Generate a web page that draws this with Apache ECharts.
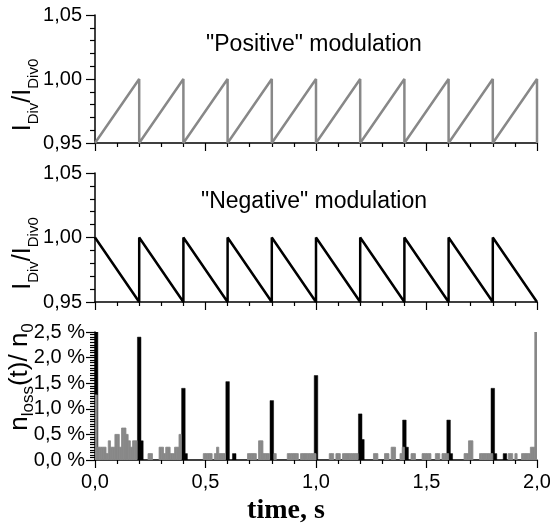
<!DOCTYPE html>
<html>
<head>
<meta charset="utf-8">
<script src="https://cdn.jsdelivr.net/npm/echarts@6/dist/echarts.min.js"></script>
<style>
html,body{margin:0;padding:0;background:#fff;}
#c{width:550px;height:528px;}
</style>
</head>
<body>
<div id="c"></div>
<script>
// ---- data ----
const xTicks = [0, 0.5, 1.0, 1.5, 2.0];
const yTicksTop = [0.95, 1.00, 1.05];
const yTicksLoss = [0, 0.5, 1.0, 1.5, 2.0, 2.5];

// "Positive" modulation sawtooth (time s, I/I0)
const posT = [0, 0.2, 0.2, 0.4, 0.4, 0.6, 0.6, 0.8, 0.8, 1.0, 1.0, 1.2, 1.2, 1.4, 1.4, 1.6, 1.6, 1.8, 1.8, 2.0, 2.0];
const posV = [0.95, 1.00, 0.95, 1.00, 0.95, 1.00, 0.95, 1.00, 0.95, 1.00, 0.95, 1.00, 0.95, 1.00, 0.95, 1.00, 0.95, 1.00, 0.95, 1.00, 0.95];

// "Negative" modulation sawtooth
const negT = [0, 0.2, 0.2, 0.4, 0.4, 0.6, 0.6, 0.8, 0.8, 1.0, 1.0, 1.2, 1.2, 1.4, 1.4, 1.6, 1.6, 1.8, 1.8, 2.0];
const negV = [1.00, 0.95, 1.00, 0.95, 1.00, 0.95, 1.00, 0.95, 1.00, 0.95, 1.00, 0.95, 1.00, 0.95, 1.00, 0.95, 1.00, 0.95, 1.00, 0.95];

// losses, black (negative modulation) – bin centre time, %
const blackT = [0.005, 0.2, 0.21, 0.4, 0.41, 0.6, 0.63, 0.8, 1.0, 1.2, 1.21, 1.4, 1.41, 1.6, 1.61, 1.8, 1.81, 1.855];
const blackV = [2.5, 2.4, 0.375, 1.4, 0.125, 1.53, 0.125, 1.16, 1.65, 0.9, 0.4, 0.78, 0.25, 0.78, 0.125, 1.4, 0.125, 0.125];

// losses, gray (positive modulation) – bin centre time, %
const grayT = [0.005, 0.015, 0.025, 0.035, 0.045, 0.055, 0.065, 0.075, 0.085, 0.095, 0.105, 0.115, 0.125, 0.135, 0.145, 0.155, 0.165, 0.175, 0.185,
  0.245, 0.255, 0.295, 0.305, 0.315, 0.325, 0.335, 0.345, 0.355, 0.365, 0.375, 0.385,
  0.495, 0.505, 0.515, 0.525, 0.545, 0.555, 0.565, 0.575, 0.585,
  0.695, 0.705, 0.715, 0.725, 0.745, 0.755, 0.765, 0.775, 0.785, 0.815,
  0.875, 0.885, 0.895, 0.905, 0.915, 0.935, 0.945, 0.955, 0.965, 0.975, 0.985, 0.995,
  1.065, 1.075, 1.095, 1.105, 1.125, 1.135, 1.145, 1.155, 1.165, 1.175, 1.185,
  1.265, 1.275, 1.315, 1.325, 1.345, 1.355, 1.385, 1.395,
  1.435, 1.445, 1.485, 1.495, 1.505, 1.515, 1.545, 1.555, 1.575, 1.585, 1.595,
  1.675, 1.685, 1.695, 1.705, 1.745, 1.755, 1.765, 1.775, 1.785, 1.795,
  1.875, 1.885, 1.905, 1.935, 1.945, 1.955, 1.965, 1.975, 1.985, 1.995];
const grayV = [1.27, 0.25, 0.25, 0.25, 0.25, 0.125, 0.375, 0.25, 0.25, 0.5, 0.5, 0.25, 0.625, 0.625, 0.5, 0.375, 0.25, 0.375, 0.375,
  0.125, 0.125, 0.25, 0.25, 0.125, 0.25, 0.25, 0.125, 0.125, 0.25, 0.25, 0.5,
  0.125, 0.125, 0.125, 0.125, 0.125, 0.25, 0.125, 0.125, 0.125,
  0.125, 0.125, 0.125, 0.125, 0.375, 0.375, 0.125, 0.125, 0.125, 0.125,
  0.125, 0.125, 0.125, 0.125, 0.125, 0.125, 0.125, 0.125, 0.125, 0.125, 0.125, 0.125,
  0.125, 0.125, 0.125, 0.125, 0.125, 0.125, 0.125, 0.125, 0.125, 0.125, 0.125,
  0.125, 0.125, 0.125, 0.125, 0.25, 0.25, 0.125, 0.25,
  0.125, 0.125, 0.125, 0.125, 0.125, 0.125, 0.125, 0.125, 0.125, 0.125, 0.125,
  0.125, 0.125, 0.375, 0.375, 0.125, 0.125, 0.125, 0.125, 0.125, 0.125,
  0.125, 0.125, 0.125, 0.125, 0.125, 0.125, 0.125, 0.25, 0.25, 2.5];

const titles = ['"Positive" modulation', '"Negative" modulation'];
const xName = 'time, s';

// ---- chart ----
const FONT = '"Liberation Sans", Arial, sans-serif';
const GRAY = '#888888';
const chart = echarts.init(document.getElementById('c'), null, {renderer: 'canvas'});

const zip = (a, b) => a.map((v, i) => [v, b[i]]);
const comma = (v, d) => v.toFixed(d).replace('.', ',');

function xAxisCfg(idx, showLabels) {
  return {
    type: 'value', gridIndex: idx, min: xTicks[0], max: xTicks[xTicks.length - 1], interval: 0.5,
    axisLine: {show: true, onZero: false, lineStyle: {color: '#000', width: 1.5}},
    axisTick: {show: true, inside: false, length: 8, lineStyle: {color: '#000', width: 1.2}},
    minorTick: {show: true, splitNumber: 5, length: 4, lineStyle: {color: '#000', width: 1.2}},
    splitLine: {show: false}, minorSplitLine: {show: false},
    axisLabel: {show: showLabels, color: '#000', fontSize: 20, fontFamily: FONT, margin: 12,
      formatter: v => comma(v, 1)},
    name: showLabels ? xName : '',
    nameLocation: 'middle', nameGap: 37, nameMoveOverlap: false,
    nameTextStyle: {fontFamily: '"Liberation Serif", "Times New Roman", serif', fontWeight: 'bold', fontSize: 28,
      color: '#000', padding: [0, 60, 0, 0]}
  };
}

function yAxisTop(idx) {
  return {
    type: 'value', gridIndex: idx, min: 0.95, max: 1.05, interval: 0.05,
    axisLine: {show: true, onZero: false, lineStyle: {color: '#000', width: 1.5}},
    axisTick: {show: true, inside: false, length: 9, lineStyle: {color: '#000', width: 1.2}},
    minorTick: {show: true, splitNumber: 5, length: 5, lineStyle: {color: '#000', width: 1.2}},
    splitLine: {show: false},
    axisLabel: {color: '#000', fontSize: 20, fontFamily: FONT, margin: 13, formatter: v => comma(v, 2)},
    name: '{m|I}{s|Div}{m|/I}{s|Div0}',
    nameLocation: 'middle', nameRotate: 90, nameGap: 54, nameMoveOverlap: false,
    nameTextStyle: {
      padding: [0, 32, 0, 0],
      rich: {
        m: {fontSize: 25, fontFamily: FONT, color: '#000', verticalAlign: 'bottom', lineHeight: 30, padding: [0, 0, 5, 0]},
        s: {fontSize: 15, fontFamily: FONT, color: '#000', verticalAlign: 'bottom', lineHeight: 15}
      }
    }
  };
}

const gridBase = {left: 95, width: 442, containLabel: false, outerBoundsMode: 'none'};

const option = {
  backgroundColor: '#fff',
  animation: false,
  grid: [
    Object.assign({top: 15, height: 128}, gridBase),
    Object.assign({top: 173, height: 129}, gridBase),
    Object.assign({top: 332, height: 128}, gridBase)
  ],
  xAxis: [xAxisCfg(0, false), xAxisCfg(1, false), xAxisCfg(2, true)],
  yAxis: [
    yAxisTop(0), yAxisTop(1),
    {
      type: 'value', gridIndex: 2, min: 0, max: 2.5, interval: 0.5,
      axisLine: {show: true, onZero: false, lineStyle: {color: '#000', width: 1.5}},
      axisTick: {show: true, inside: false, length: 9, lineStyle: {color: '#000', width: 1.2}},
      minorTick: {show: true, splitNumber: 10, length: 5, lineStyle: {color: '#000', width: 1.2}},
      splitLine: {show: false},
      axisLabel: {color: '#000', fontSize: 20, fontFamily: FONT, margin: 10, formatter: v => comma(v, 1) + ' %'},
      name: '{m|n}{s|loss}{m|(t)/ n}{s|0}',
      nameLocation: 'middle', nameRotate: 90, nameGap: 58, nameMoveOverlap: false,
      nameTextStyle: {
        padding: [0, 0, 0, 38],
        rich: {
          m: {fontSize: 26, fontFamily: FONT, color: '#000', verticalAlign: 'bottom', lineHeight: 31, padding: [0, 0, 4, 0]},
          s: {fontSize: 17, fontFamily: FONT, color: '#000', verticalAlign: 'bottom', lineHeight: 17}
        }
      }
    }
  ],
  graphic: [
    {type: 'text', x: 314, y: 45, style: {text: titles[0], font: '23px ' + FONT, fill: '#000', align: 'center', verticalAlign: 'middle', textAlign: 'center', textVerticalAlign: 'middle'}},
    {type: 'text', x: 314, y: 202, style: {text: titles[1], font: '23px ' + FONT, fill: '#000', align: 'center', verticalAlign: 'middle', textAlign: 'center', textVerticalAlign: 'middle'}}
  ],
  series: [
    {type: 'line', xAxisIndex: 0, yAxisIndex: 0, data: zip(posT, posV), showSymbol: false, symbol: 'none',
      lineStyle: {color: GRAY, width: 2.5}, clip: true},
    {type: 'line', xAxisIndex: 1, yAxisIndex: 1, data: zip(negT, negV), showSymbol: false, symbol: 'none',
      lineStyle: {color: '#000', width: 2.5}, clip: true},
    {type: 'custom', xAxisIndex: 2, yAxisIndex: 2, data: zip(blackT, blackV), clip: true, z: 2,
      renderItem: (params, api) => {
        const t = api.value(0), v = api.value(1), hw = 0.008;
        const p0 = api.coord([t - hw, v]), p1 = api.coord([t + hw, 0]);
        return {type: 'rect', shape: {x: p0[0], y: p0[1], width: p1[0] - p0[0], height: p1[1] - p0[1]},
          style: {fill: '#000', stroke: '#000', lineWidth: 0.5}};
      }},
    {type: 'custom', xAxisIndex: 2, yAxisIndex: 2, data: zip(grayT, grayV), clip: true, z: 3,
      renderItem: (params, api) => {
        const t = api.value(0), v = api.value(1), hw = 0.005;
        const p0 = api.coord([t - hw, v]), p1 = api.coord([t + hw, 0]);
        return {type: 'rect', shape: {x: p0[0], y: p0[1], width: p1[0] - p0[0], height: p1[1] - p0[1]},
          style: {fill: GRAY, stroke: GRAY, lineWidth: 0.8}};
      }}
  ]
};
chart.setOption(option);
</script>
</body>
</html>
